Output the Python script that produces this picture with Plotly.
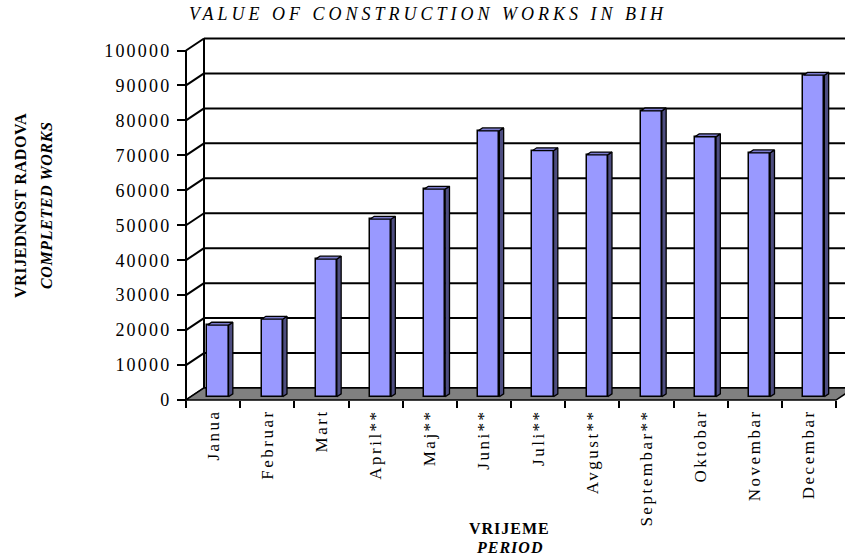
import plotly.graph_objects as go

# ---------------- data ----------------
months = ["Janua", "Februar", "Mart", "April**", "Maj**", "Juni**", "Juli**",
          "Avgust**", "Septembar**", "Oktobar", "Novembar", "Decembar"]
values = [20500, 22200, 39400, 50800, 59400, 76100, 70400, 69200, 81800, 74400, 69800, 92000]
y_ticks = [0, 10000, 20000, 30000, 40000, 50000, 60000, 70000, 80000, 90000, 100000]
y_tick_text = ["0", "10000", "20000", "30000", "40000", "50000", "60000",
               "70000", "80000", "90000", "100000"]
title_text = "VALUE OF CONSTRUCTION WORKS IN BIH"
y_title_1 = "VRIJEDNOST RADOVA"
y_title_2 = "COMPLETED WORKS"
x_title_1 = "VRIJEME"
x_title_2 = "PERIOD"

# ---------------- geometry / styling ----------------
W, H = 845, 557
ML, MT, MB = 183, 35, 154
plot_w = W - ML
plot_h = H - MT - MB
ppc = 650.0 / 12          # px per category
ppv = 349.5 / 100000.0    # px per value unit
x_lo = -0.5 - 3.0 / ppc
x_hi = x_lo + plot_w / ppc
y_lo = -3.0 / ppv
y_hi = y_lo + plot_h / ppv
DX = 18.0 / ppc           # depth offset in x units
DY = 12.0 / ppv           # depth offset in y units
f0, f1 = 0.27, 0.51       # bar depth fractions
bw = 0.39                 # bar width

FONT = "Liberation Serif, Times New Roman, serif"
FRONT = "#9999FF"
SIDE = "#4D4D80"
TOP = "#7A7ACC"
FLOOR = "#808080"

n = len(months)
xs = list(range(n))
a0, a1 = f0 * DX, f1 * DX
b0, b1 = f0 * DY, f1 * DY

fig = go.Figure()

# front faces
fig.add_trace(go.Bar(
    x=[i + a0 for i in xs], y=values, base=b0, width=bw,
    marker=dict(color=FRONT, line=dict(color="black", width=1.5)),
    hoverinfo="skip", showlegend=False))

# side faces
sx, sy = [], []
for i, v in zip(xs, values):
    xr = i + bw / 2
    sx += [xr + a0, xr + a0, xr + a1, xr + a1, xr + a0, None]
    sy += [b0, v + b0, v + b1, b1, b0, None]
fig.add_trace(go.Scatter(x=sx, y=sy, mode="lines", fill="toself", fillcolor=SIDE,
                         line=dict(color="black", width=1.3), hoverinfo="skip",
                         showlegend=False))

# top faces
tx, ty = [], []
for i, v in zip(xs, values):
    xl, xr = i - bw / 2, i + bw / 2
    tx += [xl + a0, xr + a0, xr + a1, xl + a1, xl + a0, None]
    ty += [v + b0, v + b0, v + b1, v + b1, v + b0, None]
fig.add_trace(go.Scatter(x=tx, y=ty, mode="lines", fill="toself", fillcolor=TOP,
                         line=dict(color="black", width=1.3), hoverinfo="skip",
                         showlegend=False))

# invisible trace for the boundary-tick axis
fig.add_trace(go.Scatter(x=[0], y=[0], xaxis="x2", yaxis="y", mode="markers",
                         marker=dict(opacity=0), hoverinfo="skip", showlegend=False))

shapes = []
x_left = -0.5
x_right = n - 0.5
# back wall gridlines
for t in y_ticks:
    shapes.append(dict(type="line", xref="x", yref="y", layer="below",
                       x0=x_left + DX, y0=t + DY, x1=x_right + DX + 1, y1=t + DY,
                       line=dict(color="black", width=2)))
# back wall left edge
shapes.append(dict(type="line", xref="x", yref="y", layer="below",
                   x0=x_left + DX, y0=DY, x1=x_left + DX, y1=y_ticks[-1] + DY,
                   line=dict(color="black", width=2)))
# left wall diagonals
for t in y_ticks:
    shapes.append(dict(type="line", xref="x", yref="y", layer="below",
                       x0=x_left, y0=t, x1=x_left + DX, y1=t + DY,
                       line=dict(color="black", width=2)))
# front axis line
shapes.append(dict(type="line", xref="x", yref="y", layer="below",
                   x0=x_left, y0=0, x1=x_left, y1=y_ticks[-1],
                   line=dict(color="black", width=2)))
# floor
shapes.append(dict(type="path", xref="x", yref="y", layer="below",
                   path=f"M {x_left} 0 L {x_right} 0 L {x_right + DX} {DY} L {x_left + DX} {DY} Z",
                   fillcolor=FLOOR, line=dict(color="black", width=1.5)))


def spaced(s, sp):
    return f'<span style="letter-spacing:{sp}px">{s}</span>'


fig.update_layout(
    width=W, height=H,
    margin=dict(l=ML, r=0, t=MT, b=MB),
    paper_bgcolor="white", plot_bgcolor="white",
    shapes=shapes,
    font=dict(family=FONT, color="black"),
    title=dict(text=spaced(f"<i>{title_text}</i>", 4.0), xref="container", yref="container",
               x=428 / W, xanchor="center", y=1 - 14 / H, yanchor="middle",
               font=dict(family=FONT, size=18, color="black")),
    xaxis=dict(range=[x_lo, x_hi], anchor="free", position=3.0 / plot_h,
               tickvals=xs, ticktext=[spaced(m, 2.5) for m in months],
               tickangle=-90, ticks="", showgrid=False, zeroline=False, showline=False,
               ticklabelstandoff=5,
               tickfont=dict(family=FONT, size=17, color="black"), fixedrange=True),
    xaxis2=dict(range=[x_lo, x_hi], overlaying="x", anchor="free", position=3.0 / plot_h,
                side="bottom", tickvals=[i - 0.5 for i in range(n + 1)], ticks="outside",
                ticklen=7, tickwidth=2, tickcolor="black", showticklabels=False,
                showgrid=False, zeroline=False, showline=False),
    yaxis=dict(range=[y_lo, y_hi], anchor="free", position=3.0 / plot_w,
               tickvals=y_ticks, ticktext=[spaced(s, 2.2) for s in y_tick_text],
               ticks="outside", ticklen=9, tickwidth=2, tickcolor="black",
               showgrid=False, zeroline=False, showline=False,
               ticklabelstandoff=2,
               tickfont=dict(family=FONT, size=18, color="black")),
    annotations=[
        dict(text=spaced(f"<b>{y_title_1}</b>", 0.6), xref="paper", yref="paper",
             x=-(ML - 20) / plot_w, y=(403 - 206) / plot_h, textangle=-90,
             showarrow=False, xanchor="center", yanchor="middle",
             font=dict(family=FONT, size=16, color="black")),
        dict(text=spaced(f"<b><i>{y_title_2}</i></b>", 0.6), xref="paper", yref="paper",
             x=-(ML - 46) / plot_w, y=(403 - 206) / plot_h, textangle=-90,
             showarrow=False, xanchor="center", yanchor="middle",
             font=dict(family=FONT, size=16, color="black")),
        dict(text=spaced(f"<b>{x_title_1}</b>", 1.0), xref="paper", yref="paper",
             x=(509 - ML) / plot_w, y=-(528 - 403) / plot_h,
             showarrow=False, xanchor="center", yanchor="middle",
             font=dict(family=FONT, size=16, color="black")),
        dict(text=spaced(f"<b><i>{x_title_2}</i></b>", 1.0), xref="paper", yref="paper",
             x=(509 - ML) / plot_w, y=-(547 - 403) / plot_h,
             showarrow=False, xanchor="center", yanchor="middle",
             font=dict(family=FONT, size=16, color="black")),
    ],
    showlegend=False,
    bargap=0,
)

fig.write_html("out.html", config={"displayModeBar": False},
               post_script="document.body.style.margin='0';document.body.style.padding='0';")
